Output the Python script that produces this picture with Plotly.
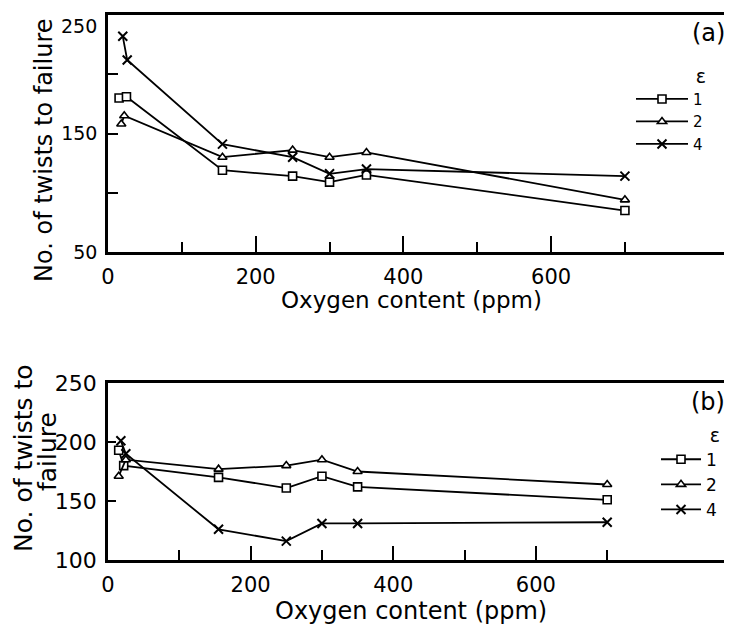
import plotly.graph_objects as go

# ---------------- data ----------------
# Panel (a)
xa_eps1 = [15, 25, 155, 250, 300, 350, 700]
ya_eps1 = [180, 181, 119, 114, 109, 115, 85]
xa_eps2 = [18, 22, 155, 250, 300, 350, 700]
ya_eps2 = [158, 165, 130, 136, 130, 134, 94]
xa_eps4 = [20, 26, 155, 250, 300, 350, 700]
ya_eps4 = [232, 212, 141, 130, 116, 120, 114]

# Panel (b)
xb_eps1 = [15, 22, 155, 250, 300, 350, 700]
yb_eps1 = [193, 180, 170, 161, 171, 162, 151]
xb_eps2 = [15, 25, 155, 250, 300, 350, 700]
yb_eps2 = [171, 185, 177, 180, 185, 175, 164]
xb_eps4 = [18, 25, 155, 250, 300, 350, 700]
yb_eps4 = [201, 190, 126, 116, 131, 131, 132]

strain_labels = ["1", "2", "4"]
x_major_ticks = [0, 200, 400, 600]
x_minor_ticks = [100, 300, 500, 700]
ya_ticks = [50, 100, 150, 200, 250]
ya_ticktext = ["50", "", "150", "", "250"]
yb_ticks = [100, 150, 200, 250]
yb_ticktext = ["100", "150", "200", "250"]

# The page body has an 8px margin, so the figure is drawn 8px in from the corner.
OFF = 8
W, H = 732 - OFF, 629 - OFF
FONT = "DejaVu Sans"

def px_x(p):
    return (p - OFF) / W

def px_y(p):
    return 1 - (p - OFF) / H

symbols = ["square", "triangle-up", "x-thin-open"]

fig = go.Figure()

panels = [
    ("x", "y", "legend", [(xa_eps1, ya_eps1), (xa_eps2, ya_eps2), (xa_eps4, ya_eps4)]),
    ("x2", "y2", "legend2", [(xb_eps1, yb_eps1), (xb_eps2, yb_eps2), (xb_eps4, yb_eps4)]),
]
for xr, yr, leg, series in panels:
    for (xs, ys), lab, sym in zip(series, strain_labels, symbols):
        is_x = sym.startswith("x")
        fig.add_trace(go.Scatter(
            x=xs, y=ys, mode="lines+markers", name=lab,
            xaxis=xr, yaxis=yr, legend=leg,
            line=dict(color="black", width=1.8),
            marker=dict(symbol=sym, size=9 if is_x else 8,
                        color="black" if is_x else "white",
                        line=dict(color="black", width=2 if is_x else 1.6)),
        ))

axis_common = dict(showline=True, linecolor="black", linewidth=2.5,
                   showgrid=False, zeroline=False, ticks="inside",
                   tickcolor="black", tickwidth=2, automargin=False,
                   ticklabeloverflow="allow",
                   tickfont=dict(family=FONT, size=21, color="black"))

# the top label of panel (a) sits a little below its tick, drawn separately
ya_axis_text = ya_ticktext[:-1] + [""]

fig.update_layout(
    width=W, height=H,
    margin=dict(l=0, r=0, t=0, b=0, autoexpand=False),
    paper_bgcolor="white", plot_bgcolor="white",
    font=dict(family=FONT, color="black"),
    xaxis=dict(domain=[px_x(108), 1.0], anchor="y", range=[0, 845],
               tickvals=x_major_ticks, ticklen=16, mirror=True,
               minor=dict(tickvals=x_minor_ticks, ticklen=10, ticks="inside",
                          tickcolor="black", tickwidth=2),
               ticklabelstandoff=4, **axis_common),
    yaxis=dict(domain=[px_y(252), px_y(15)], anchor="x", range=[50, 250],
               tickvals=ya_ticks, ticktext=ya_axis_text, ticklen=10,
               ticklabelstandoff=4,
               **{**axis_common, "tickfont": dict(family=FONT, size=19, color="black")}),
    xaxis2=dict(domain=[px_x(108), 1.0], anchor="y2", range=[0, 875],
                tickvals=x_major_ticks, ticklen=14, mirror=True,
                minor=dict(tickvals=x_minor_ticks, ticklen=10, ticks="inside",
                           tickcolor="black", tickwidth=2),
                ticklabelstandoff=4, **axis_common),
    yaxis2=dict(domain=[px_y(560), px_y(383)], anchor="x2", range=[100, 250],
                tickvals=yb_ticks, ticktext=yb_ticktext, ticklen=8,
                ticklabelstandoff=4,
                **{**axis_common, "tickfont": dict(family=FONT, size=22, color="black")}),
    legend=dict(x=px_x(631), y=px_y(58), xanchor="left", yanchor="top",
                bgcolor="rgba(0,0,0,0)", borderwidth=0, itemwidth=52,
                font=dict(family=FONT, size=15, color="black"),
                title=dict(text="ε", side="top right",
                           font=dict(family=FONT, size=19, color="black")),
                tracegroupgap=0),
    legend2=dict(x=px_x(656), y=px_y(417), xanchor="left", yanchor="top",
                 bgcolor="rgba(0,0,0,0)", borderwidth=0, itemwidth=40,
                 font=dict(family=FONT, size=17, color="black"),
                 title=dict(text="ε", side="top right",
                            font=dict(family=FONT, size=19, color="black")),
                 tracegroupgap=0),
    showlegend=True,
)

# top tick label of panel (a)
fig.add_annotation(xref="paper", yref="y", x=px_x(99), y=ya_ticks[-1],
                   text=ya_ticktext[-1], showarrow=False,
                   xanchor="right", yanchor="top", yshift=2,
                   font=dict(family=FONT, size=19, color="black"))

annotations = [
    dict(text="(a)", x=px_x(708), y=px_y(33), font=dict(size=24)),
    dict(text="(b)", x=px_x(708), y=px_y(402), font=dict(size=24)),
    dict(text="Oxygen content (ppm)", x=px_x(411), y=px_y(300), font=dict(size=23)),
    dict(text="Oxygen content (ppm)", x=px_x(411), y=px_y(611), font=dict(size=24)),
    dict(text="No. of twists to failure", x=px_x(44), y=px_y(150), textangle=-90,
         font=dict(size=24)),
    dict(text="No. of twists to", x=px_x(23), y=px_y(458), textangle=-90,
         font=dict(size=25)),
    dict(text="failure", x=px_x(47), y=px_y(452), textangle=-90,
         font=dict(size=25)),
]
for a in annotations:
    fig.add_annotation(xref="paper", yref="paper", showarrow=False,
                       xanchor="center", yanchor="middle",
                       **{**a, "font": dict(family=FONT, color="black", **a["font"])})

fig.write_html("out.html")
